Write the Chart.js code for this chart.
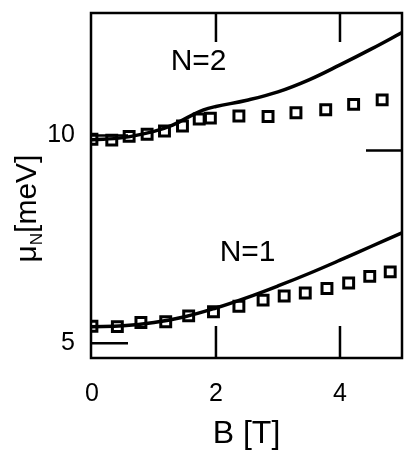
<!DOCTYPE html>
<html>
<head>
<meta charset="utf-8">
<script src="https://cdn.jsdelivr.net/npm/chart.js@4.4.1/dist/chart.umd.min.js"></script>
<style>
  html, body { margin: 0; padding: 0; background: #fff; overflow: hidden; }
  canvas { display: block; }
</style>
</head>
<body>
<canvas id="muChart" width="412" height="450"></canvas>
<script>
// measured points (squares)
const bN2Dots = [0, 0.32, 0.60, 0.89, 1.17, 1.46, 1.73, 1.91, 2.37, 2.84, 3.29, 3.77, 4.22, 4.68];
const muN2Dots = [9.91, 9.89, 9.98, 10.03, 10.11, 10.23, 10.40, 10.42, 10.47, 10.46, 10.55, 10.62, 10.75, 10.86];
const bN1Dots = [0, 0.41, 0.79, 1.19, 1.56, 1.96, 2.37, 2.76, 3.10, 3.44, 3.79, 4.14, 4.48, 4.81];
const muN1Dots = [5.41, 5.40, 5.50, 5.52, 5.66, 5.76, 5.89, 6.04, 6.14, 6.21, 6.32, 6.45, 6.61, 6.72];

// theory curves (solid lines)
const bN2Line = [0, 0.5, 1.0, 1.3, 1.6, 1.8, 2.0, 2.5, 3.0, 3.5, 4.0, 4.5, 5.0];
const muN2Line = [9.90, 9.95, 10.10, 10.25, 10.48, 10.62, 10.70, 10.85, 11.05, 11.34, 11.70, 12.08, 12.48];
const bN1Line = [0, 0.5, 1.0, 1.5, 2.0, 2.5, 3.0, 3.5, 4.0, 4.5, 5.0];
const muN1Line = [5.40, 5.42, 5.50, 5.64, 5.85, 6.10, 6.38, 6.68, 7.00, 7.33, 7.66];

// axes
const xTicks = [0, 2, 4];
const yTicks = [5, 10];
const rightTicks = [9.64];

// in-plot labels
const noteText = ['N=2', 'N=1'];
const noteB = [1.72, 2.51];
const noteMu = [11.78, 7.17];

const FONT = "'Liberation Sans', Arial, sans-serif";

function toPoints(xs, ys) {
    return xs.map((v, i) => ({ x: v, y: ys[i] }));
}

const framePlugin = {
    id: 'frame',
    afterDatasetsDraw(chart) {
        const { ctx, chartArea: a, scales: { x, y } } = chart;
        ctx.save();
        ctx.strokeStyle = '#000';
        ctx.lineWidth = 2.5;
        ctx.strokeRect(a.left, a.top, a.right - a.left, a.bottom - a.top);

        ctx.beginPath();
        xTicks.forEach(v => {
            if (v <= x.min + 0.1) return;
            const px = x.getPixelForValue(v);
            ctx.moveTo(px, a.top); ctx.lineTo(px, a.top + 29);
            ctx.moveTo(px, a.bottom); ctx.lineTo(px, a.bottom - 32);
        });
        yTicks.forEach(v => {
            const py = y.getPixelForValue(v);
            ctx.moveTo(a.left, py); ctx.lineTo(a.left + 37, py);
        });
        rightTicks.forEach(v => {
            const py = y.getPixelForValue(v);
            ctx.moveTo(a.right, py); ctx.lineTo(a.right - 36, py);
        });
        ctx.stroke();

        ctx.fillStyle = '#000';
        ctx.font = '30px ' + FONT;
        ctx.textAlign = 'center';
        ctx.textBaseline = 'middle';
        noteText.forEach((t, i) => {
            ctx.fillText(t, x.getPixelForValue(noteB[i]), y.getPixelForValue(noteMu[i]));
        });

        // y title with subscript
        const big = '30px ' + FONT, small = '17px ' + FONT;
        ctx.font = big;
        const wMu = ctx.measureText('\u03bc').width;
        const wUnit = ctx.measureText('[meV]').width;
        ctx.font = small;
        const wSub = ctx.measureText('N').width;
        const total = wMu + wSub + wUnit;
        ctx.translate(36, (a.top + a.bottom) / 2 + 23);
        ctx.rotate(-Math.PI / 2);
        ctx.textAlign = 'left';
        ctx.textBaseline = 'alphabetic';
        let cx = -total / 2;
        ctx.font = big;
        ctx.fillText('\u03bc', cx, 0);
        cx += wMu;
        ctx.font = small;
        ctx.fillText('N', cx, 6);
        cx += wSub;
        ctx.font = big;
        ctx.fillText('[meV]', cx, 0);
        ctx.restore();
    }
};

new Chart(document.getElementById('muChart').getContext('2d'), {
    type: 'scatter',
    data: {
        datasets: [
            {
                type: 'line',
                data: toPoints(bN2Line, muN2Line),
                borderColor: '#000',
                borderWidth: 3.5,
                pointRadius: 0,
                tension: 0.4,
                fill: false
            },
            {
                type: 'line',
                data: toPoints(bN1Line, muN1Line),
                borderColor: '#000',
                borderWidth: 3.5,
                pointRadius: 0,
                tension: 0.4,
                fill: false
            },
            {
                data: toPoints(bN2Dots, muN2Dots),
                pointStyle: 'rect',
                pointRadius: 7,
                borderWidth: 3,
                borderColor: '#000',
                backgroundColor: 'rgba(0,0,0,0)'
            },
            {
                data: toPoints(bN1Dots, muN1Dots),
                pointStyle: 'rect',
                pointRadius: 7,
                borderWidth: 3,
                borderColor: '#000',
                backgroundColor: 'rgba(0,0,0,0)'
            }
        ]
    },
    options: {
        responsive: false,
        animation: false,
        layout: { padding: { top: 13, right: 3, left: 0, bottom: 0 } },
        plugins: {
            legend: { display: false },
            tooltip: { enabled: false }
        },
        scales: {
            x: {
                type: 'linear',
                min: -0.015,
                max: 5.0,
                grid: { display: false, drawTicks: false },
                border: { display: false },
                afterBuildTicks: s => { s.ticks = xTicks.map(v => ({ value: v })); },
                afterFit: s => {
                    s.height = 92;
                    s.paddingLeft = 0;
                    s.paddingRight = 0;
                },
                ticks: {
                    color: '#000',
                    padding: 21,
                    font: { family: FONT, size: 25 }
                },
                title: {
                    display: true,
                    text: 'B [T]',
                    color: '#000',
                    font: { family: FONT, size: 32, lineHeight: 1 },
                    padding: { top: 0, bottom: 0 }
                }
            },
            y: {
                min: 4.646,
                max: 12.95,
                grid: { display: false, drawTicks: false },
                border: { display: false },
                afterBuildTicks: s => { s.ticks = yTicks.map(v => ({ value: v })); },
                afterFit: s => {
                    s.width = 91;
                    s.paddingTop = 0;
                    s.paddingBottom = 0;
                },
                ticks: {
                    color: '#000',
                    padding: 16,
                    font: { family: FONT, size: 25 }
                }
            }
        }
    },
    plugins: [framePlugin]
});
</script>
</body>
</html>
